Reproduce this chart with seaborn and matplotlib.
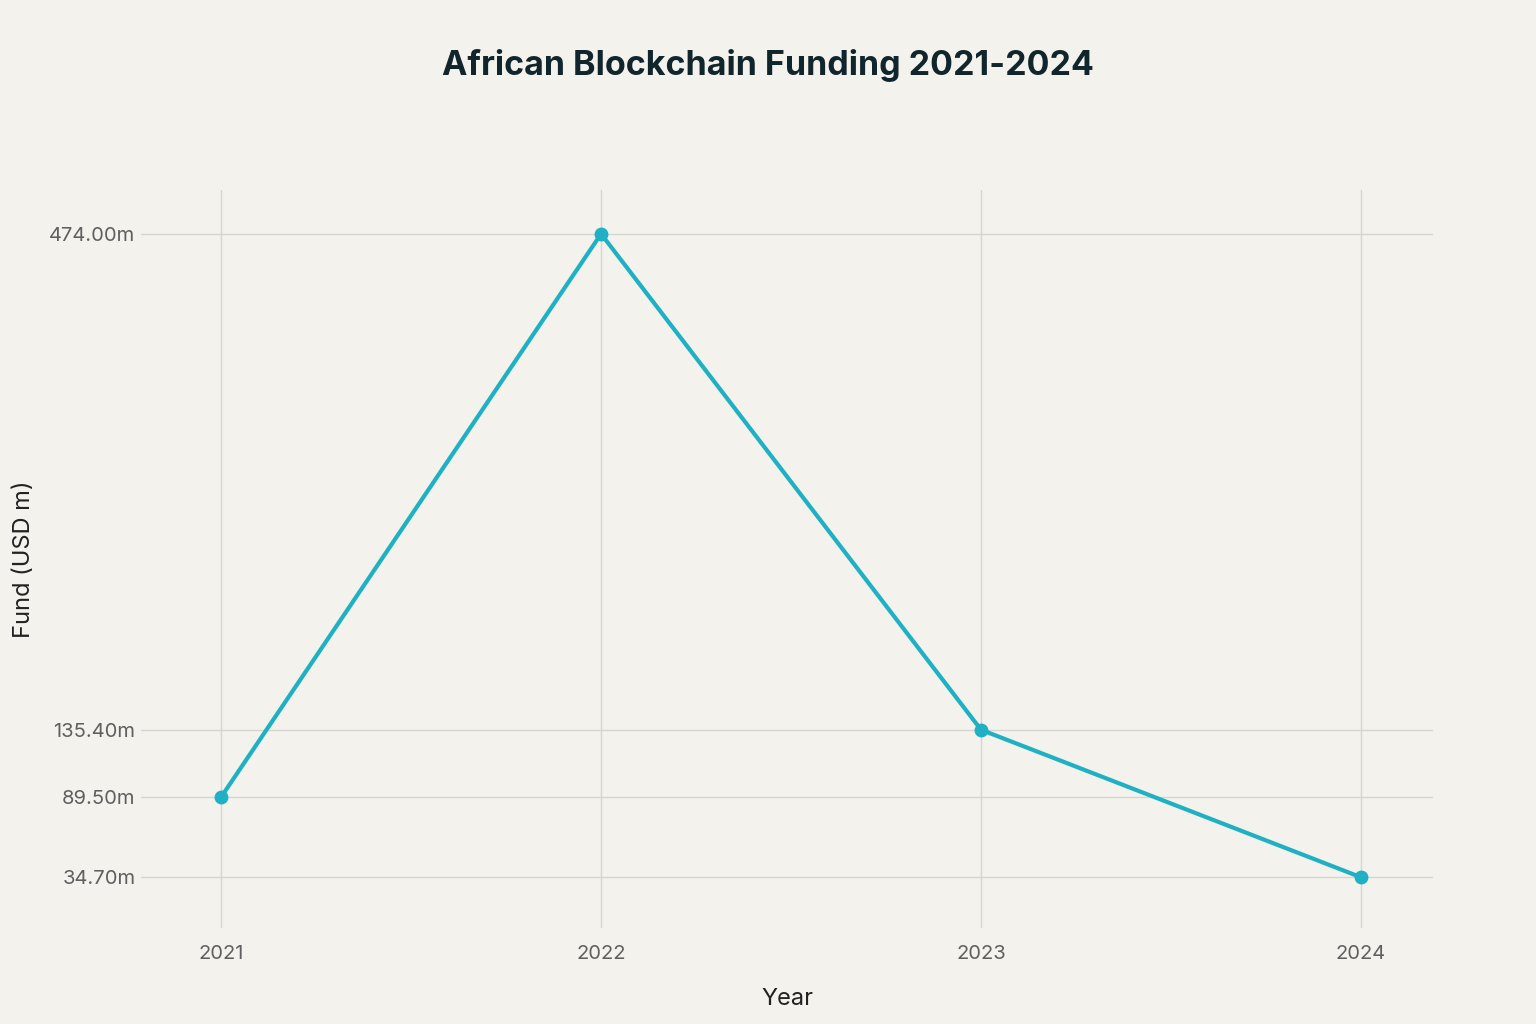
import numpy as np
import pandas as pd
import matplotlib
matplotlib.use('Agg')
import matplotlib.pyplot as plt
import seaborn as sns

# dati
anni = [2021, 2022, 2023, 2024]
fondi = [89.5, 474.0, 135.4, 34.7]
etichette_y = ['89.50m', '474.00m', '135.40m', '34.70m']

df = pd.DataFrame({'Year': anni, 'Fund': fondi})

sfondo = '#F3F2EC'
colore = '#1FB1C3'

sns.set_theme(style='white')
plt.rcParams['font.family'] = ['Inter', 'DejaVu Sans']

fig = plt.figure(figsize=(15.36, 10.24), dpi=100, facecolor=sfondo)
ax = fig.add_axes([0.0918, 0.0937, 0.933 - 0.0918, 0.8145 - 0.0937])
ax.set_facecolor(sfondo)

sns.lineplot(data=df, x='Year', y='Fund', ax=ax, color=colore, linewidth=3,
             marker='o', markersize=10, markeredgewidth=0, zorder=3)

ax.set_xlim(2020.789, 2024.19)
ax.set_ylim(0, 504)
ax.set_xticks(anni)
ax.set_xticklabels([str(a) for a in anni])
ax.set_yticks(fondi)
ax.set_yticklabels(etichette_y)

ax.grid(True, color='#D6D6D1', linewidth=1)
ax.set_axisbelow(True)
for s in ax.spines.values():
    s.set_visible(False)
ax.tick_params(axis='both', length=0, labelsize=14.5, colors='#5F5F5F', pad=4)
ax.tick_params(axis='x', pad=12)

ax.set_xlabel('Year', fontsize=17, color='#222222', labelpad=18)
ax.set_ylabel('Fund (USD m)', fontsize=17, color='#222222', labelpad=10)

fig.suptitle('African Blockchain Funding 2021-2024', fontsize=24.5, fontweight='bold',
             color='#10252C', x=0.5, y=0.952)

fig.savefig('out.png', dpi=100, facecolor=sfondo)
